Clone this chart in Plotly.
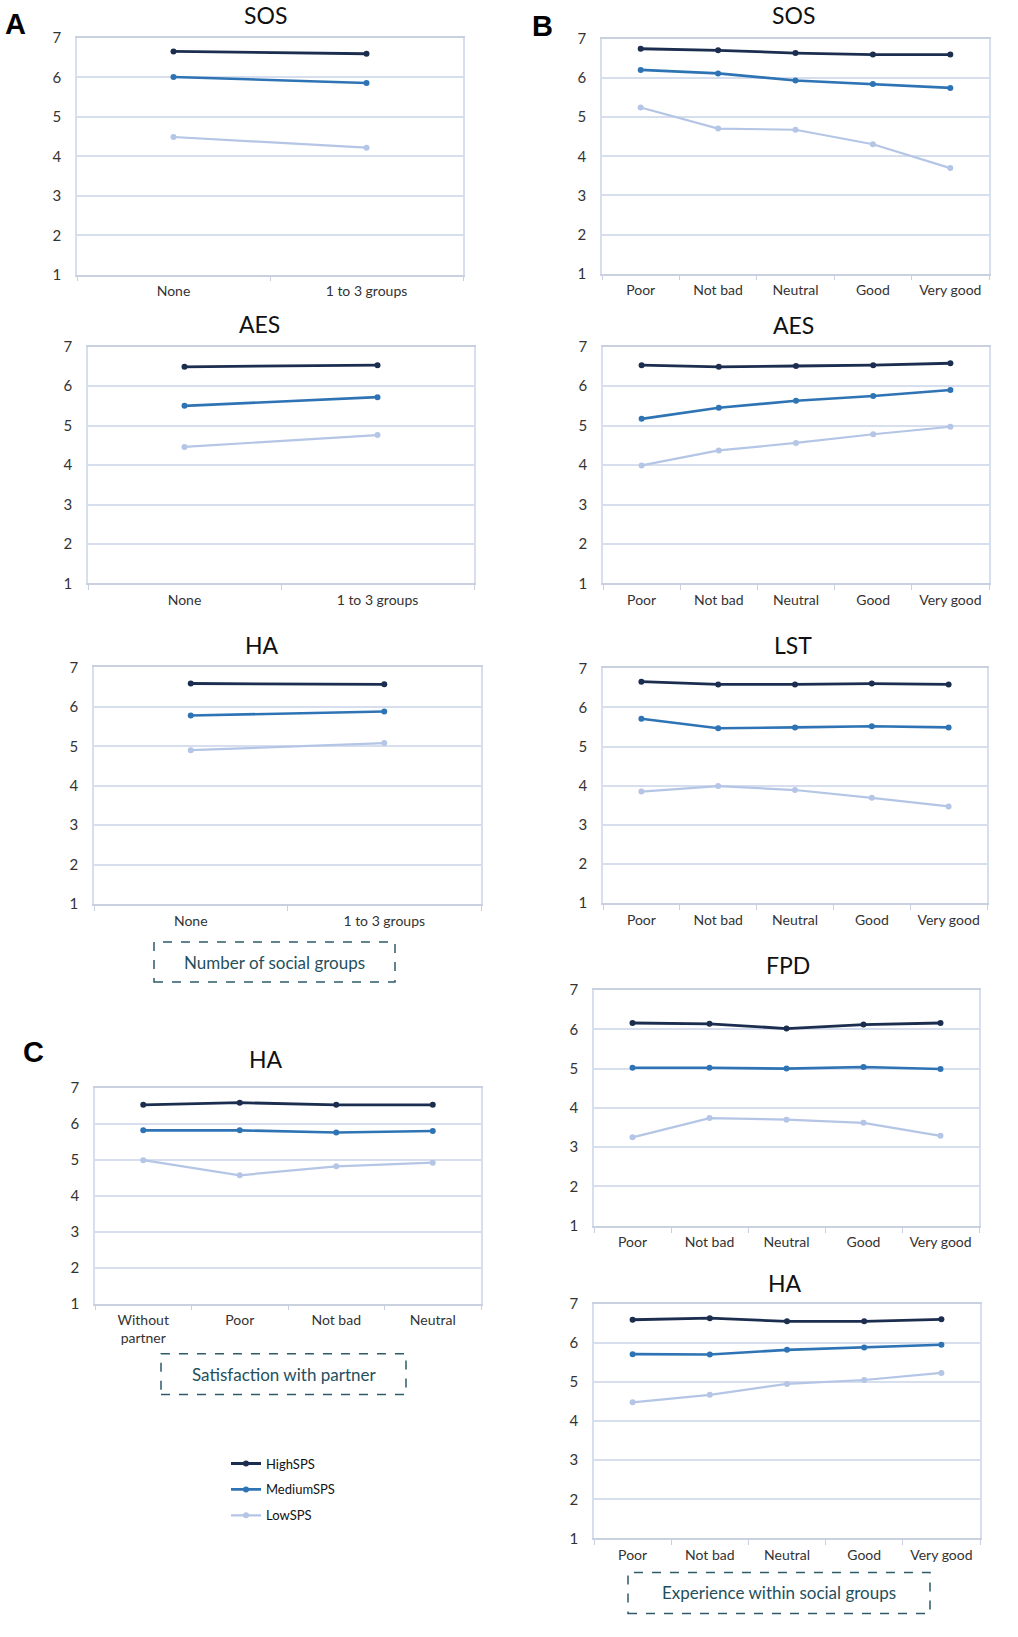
import plotly.graph_objects as go

W, H = 1018, 1637

# ---------------- data ----------------
series_names = ["HighSPS", "MediumSPS", "LowSPS"]

cat_A = ["None", "1 to 3 groups"]
cat_B = ["Poor", "Not bad", "Neutral", "Good", "Very good"]
cat_C = ["Without partner", "Poor", "Not bad", "Neutral"]
cat_C_labels = ["Without<br>partner", "Poor", "Not bad", "Neutral"]

A_SOS_high = [6.66, 6.60]
A_SOS_med = [6.01, 5.86]
A_SOS_low = [4.49, 4.22]

A_AES_high = [6.49, 6.53]
A_AES_med = [5.50, 5.72]
A_AES_low = [4.46, 4.76]

A_HA_high = [6.59, 6.57]
A_HA_med = [5.78, 5.88]
A_HA_low = [4.90, 5.08]

B_SOS_high = [6.75, 6.71, 6.64, 6.60, 6.60]
B_SOS_med = [6.21, 6.12, 5.94, 5.85, 5.75]
B_SOS_low = [5.25, 4.71, 4.68, 4.31, 3.70]

B_AES_high = [6.53, 6.49, 6.51, 6.53, 6.58]
B_AES_med = [5.17, 5.45, 5.63, 5.75, 5.90]
B_AES_low = [3.99, 4.37, 4.56, 4.78, 4.97]

B_LST_high = [6.66, 6.59, 6.59, 6.61, 6.59]
B_LST_med = [5.71, 5.47, 5.49, 5.52, 5.49]
B_LST_low = [3.85, 3.99, 3.89, 3.69, 3.47]

B_FPD_high = [6.16, 6.14, 6.02, 6.12, 6.16]
B_FPD_med = [5.02, 5.02, 5.00, 5.04, 4.99]
B_FPD_low = [3.25, 3.74, 3.70, 3.62, 3.29]

B_HA_high = [6.59, 6.63, 6.55, 6.55, 6.60]
B_HA_med = [5.71, 5.70, 5.82, 5.88, 5.95]
B_HA_low = [4.48, 4.67, 4.95, 5.05, 5.23]

C_HA_high = [6.53, 6.59, 6.53, 6.53]
C_HA_med = [5.82, 5.82, 5.76, 5.80]
C_HA_low = [4.99, 4.57, 4.82, 4.92]

y_ticks = [1, 2, 3, 4, 5, 6, 7]

# ---------------- styling ----------------
colors = ["#1c2e4f", "#2e74b5", "#b4c5e6"]
widths = [2.8, 2.6, 2.2]
FONT = "Lato"
grid_c = "#d7deee"
axis_c = "#c9d0df"
tick_c = "#333333"

# panels: (title, categories, labels, series, plot x0, x1, ytop, ybot, title x, title y) in pixels
panels = [
    ("SOS", cat_A, cat_A, [A_SOS_high, A_SOS_med, A_SOS_low], 77, 463, 36, 273, 265, 13),
    ("SOS", cat_B, cat_B, [B_SOS_high, B_SOS_med, B_SOS_low], 602, 989, 37, 272, 793, 13),
    ("AES", cat_A, cat_A, [A_AES_high, A_AES_med, A_AES_low], 88, 474, 345, 582, 259, 322),
    ("AES", cat_B, cat_B, [B_AES_high, B_AES_med, B_AES_low], 603, 989, 345, 582, 793, 323),
    ("HA", cat_A, cat_A, [A_HA_high, A_HA_med, A_HA_low], 94, 481, 666, 903, 262, 644),
    ("LST", cat_B, cat_B, [B_LST_high, B_LST_med, B_LST_low], 603, 987, 667, 902, 793, 644),
    ("FPD", cat_B, cat_B, [B_FPD_high, B_FPD_med, B_FPD_low], 594, 979, 989, 1225, 788, 964),
    ("HA", cat_B, cat_B, [B_HA_high, B_HA_med, B_HA_low], 594, 980, 1303, 1538, 785, 1282),
    ("HA", cat_C, cat_C_labels, [C_HA_high, C_HA_med, C_HA_low], 95, 481, 1087, 1303, 266, 1058),
]

fig = go.Figure()
annotations = []
shapes = []
layout_axes = {}

# vertical calibration (picture vs page) observed in earlier renders
Y_OFF, Y_SCALE = 8.0, 0.990

def px_x(v):
    return v / W

def px_y(v):
    return 1 - ((v - Y_OFF) / Y_SCALE) / H

for i, (title, cats, labels, vals, x0, x1, yt, yb, tx, ty) in enumerate(panels):
    n = i + 1
    xa = "x" if n == 1 else f"x{n}"
    ya = "y" if n == 1 else f"y{n}"
    for s in range(3):
        fig.add_trace(go.Scatter(
            x=cats, y=vals[s], xaxis=xa, yaxis=ya,
            mode="lines+markers", name=series_names[s],
            legendgroup=series_names[s], showlegend=(i == 0),
            line=dict(color=colors[s], width=widths[s]),
            marker=dict(color=colors[s], size=6),
        ))
    xkey = "xaxis" if n == 1 else f"xaxis{n}"
    ykey = "yaxis" if n == 1 else f"yaxis{n}"
    layout_axes[xkey] = dict(
        domain=[px_x(x0), px_x(x1)], anchor=ya, type="category",
        categoryorder="array", categoryarray=cats,
        range=[-0.5, len(cats) - 0.5],
        tickvals=cats, ticktext=labels,
        tickson="boundaries", ticks="outside", ticklen=5, tickcolor=axis_c,
        showline=True, linecolor=axis_c, linewidth=1.5, mirror=True,
        showgrid=False, zeroline=False, fixedrange=True,
        tickfont=dict(family=FONT, size=14, color=tick_c),
        ticklabelstandoff=3,
    )
    layout_axes[ykey] = dict(
        domain=[px_y(yb), px_y(yt)], anchor=xa, range=[1, 7],
        tickvals=y_ticks, showgrid=True, gridcolor=grid_c, gridwidth=1.5,
        showline=True, linecolor=grid_c, linewidth=1.5, mirror=True,
        zeroline=False, ticks="", fixedrange=True,
        tickfont=dict(family=FONT, size=15, color=tick_c),
        ticklabelstandoff=11,
    )
    annotations.append(dict(
        text=title, x=px_x(tx), y=px_y(ty),
        xref="paper", yref="paper", showarrow=False,
        xanchor="center", yanchor="middle",
        font=dict(family=FONT, size=23, color="#111111"),
    ))

# panel letters
for letter, lx, ly in [("A", 15, 22), ("B", 542, 24), ("C", 33, 1051)]:
    annotations.append(dict(
        text=f"<b>{letter}</b>", x=px_x(lx), y=px_y(ly), xref="paper", yref="paper",
        showarrow=False, xanchor="center", yanchor="middle",
        font=dict(family="Liberation Sans", size=29, color="#000000"),
    ))

# dashed caption boxes
boxes = [
    ("Number of social groups", 154, 395, 941, 981),
    ("Satisfaction with partner", 161, 406, 1353, 1394),
    ("Experience within social groups", 628, 930, 1572, 1613),
]
for text, bx0, bx1, by0, by1 in boxes:
    shapes.append(dict(
        type="rect", xref="paper", yref="paper",
        x0=px_x(bx0), x1=px_x(bx1), y0=px_y(by1), y1=px_y(by0),
        line=dict(color="#2d5b69", width=1.5, dash="dash"),
    ))
    annotations.append(dict(
        text=text, x=px_x((bx0 + bx1) / 2), y=px_y((by0 + by1) / 2),
        xref="paper", yref="paper", showarrow=False,
        xanchor="center", yanchor="middle",
        font=dict(family=FONT, size=17, color="#24505e"),
    ))

fig.update_layout(
    width=W, height=H, margin=dict(l=0, r=0, t=0, b=0),
    paper_bgcolor="white", plot_bgcolor="white",
    annotations=annotations, shapes=shapes,
    legend=dict(
        x=px_x(226), y=px_y(1448), xanchor="left", yanchor="top",
        font=dict(family=FONT, size=13, color="#111111"),
        tracegroupgap=6, itemwidth=30, bgcolor="rgba(0,0,0,0)",
    ),
    **layout_axes,
)

page_fix = (
    "var gd=document.getElementById('{plot_id}');"
    "var de=document.documentElement;de.style.margin='0';de.style.padding='0';de.style.overflow='hidden';"
    "document.body.style.margin='0';document.body.style.padding='0';document.body.style.overflow='hidden';"
    "gd.style.position='fixed';gd.style.top='0';gd.style.left='0';"
)

fig.write_html(
    "out.html",
    config={"displayModeBar": False},
    post_script=page_fix,
)
